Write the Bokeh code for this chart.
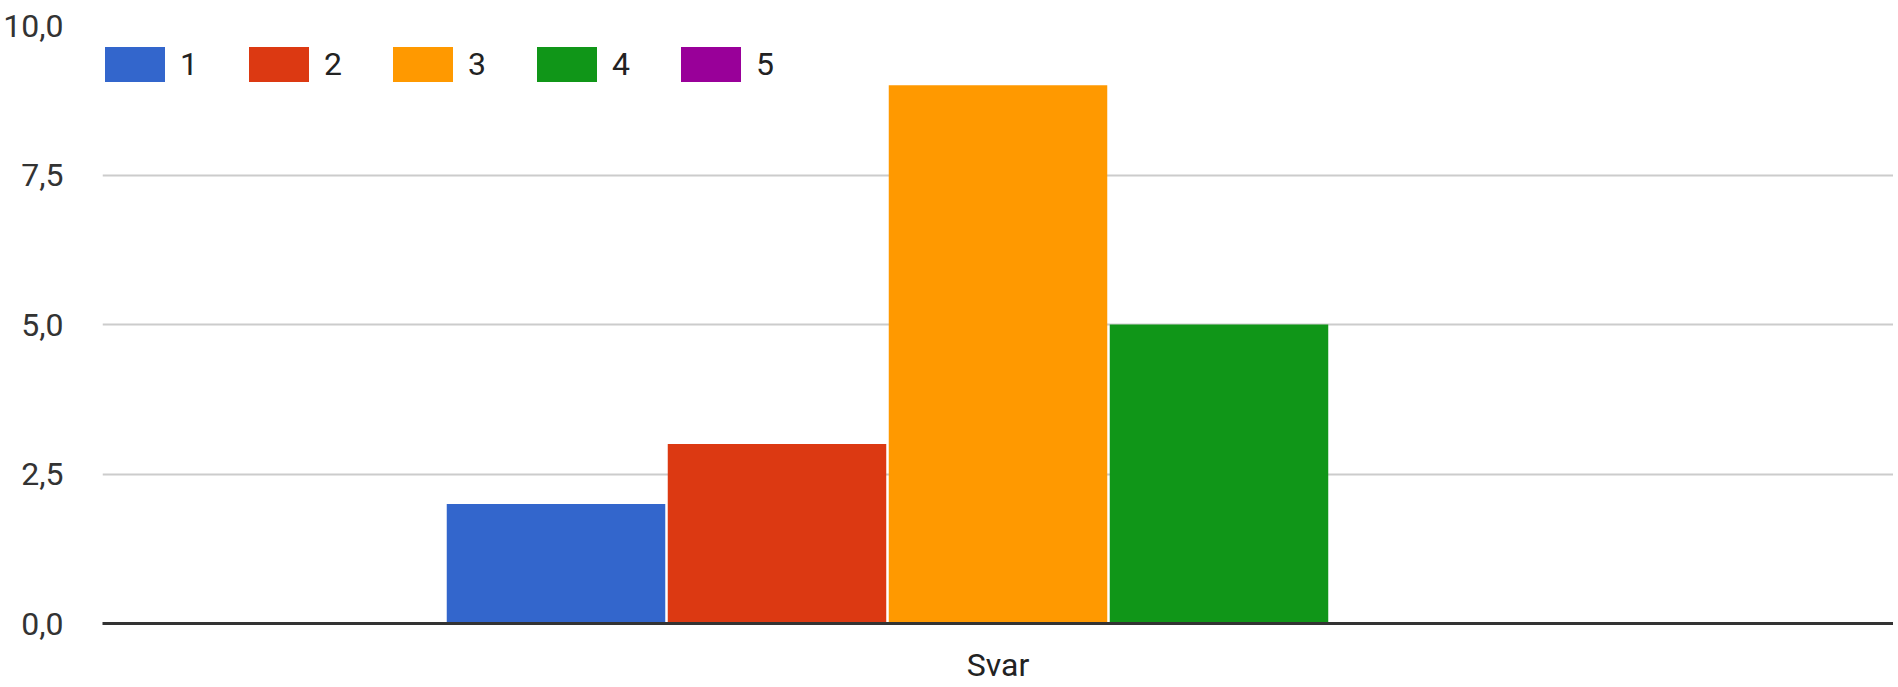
from bokeh.plotting import figure
from bokeh.models import FactorRange, Range1d, FixedTicker, Legend, LegendItem
from bokeh.transform import dodge
from bokeh.embed import file_html
from bokeh.resources import INLINE

categories = ["Svar"]
series = ["1", "2", "3", "4", "5"]
values = [2, 3, 9, 5, 0]
colors = ["#3366cc", "#dc3912", "#ff9900", "#109618", "#990099"]
y_ticks = [0, 2.5, 5, 7.5, 10]
y_tick_labels = ["0,0", "2,5", "5,0", "7,5", "10,0"]

FONT = "Roboto"
FS = "32px"

p = figure(frame_width=1791, frame_height=598, x_range=FactorRange(*categories),
           y_range=Range1d(0, 10), output_backend="svg", toolbar_location=None,
           min_border_left=99, min_border_right=0, min_border_top=25, min_border_bottom=54)
p.outline_line_color = None
p.background_fill_color = "white"

step = 221 / 1791
bw = 218.5 / 1791
renderers = []
for i, (s, v, c) in enumerate(zip(series, values, colors)):
    src = {"x": categories, "top": [v]}
    r = p.vbar(x=dodge("x", (i - 2) * step, range=p.x_range), top="top", width=bw,
               source=src, fill_color=c, line_color=None)
    renderers.append(r)

legend = Legend(items=[LegendItem(label=s, renderers=[r]) for s, r in zip(series, renderers)],
                orientation="horizontal", location=(-5, 537),
                glyph_width=75, glyph_height=44, label_standoff=8, spacing=41,
                label_text_font=FONT, label_text_font_size=FS, label_text_color="#222222",
                border_line_color=None, background_fill_alpha=0, padding=0, margin=0,
                label_height=44, label_width=20)
p.add_layout(legend, "center")

p.yaxis.ticker = FixedTicker(ticks=y_ticks)
p.yaxis.major_label_overrides = {t: l for t, l in zip(y_ticks, y_tick_labels)}
p.yaxis.axis_line_color = None
p.yaxis.major_tick_line_color = None
p.yaxis.minor_tick_line_color = None
p.yaxis.major_label_standoff = 33
p.yaxis.major_label_text_font = FONT
p.yaxis.major_label_text_font_size = FS
p.yaxis.major_label_text_color = "#333333"

p.xaxis.axis_line_color = "#333333"
p.xaxis.axis_line_width = 3
p.xaxis.major_tick_line_color = None
p.xaxis.minor_tick_line_color = None
p.xaxis.major_label_standoff = 16
p.xaxis.major_label_text_font = FONT
p.xaxis.major_label_text_font_size = FS
p.xaxis.major_label_text_color = "#222222"

p.xgrid.grid_line_color = None
p.ygrid.grid_line_color = "#cccccc"
p.ygrid.grid_line_width = 2

open("out.html", "w").write(file_html(p, INLINE))
